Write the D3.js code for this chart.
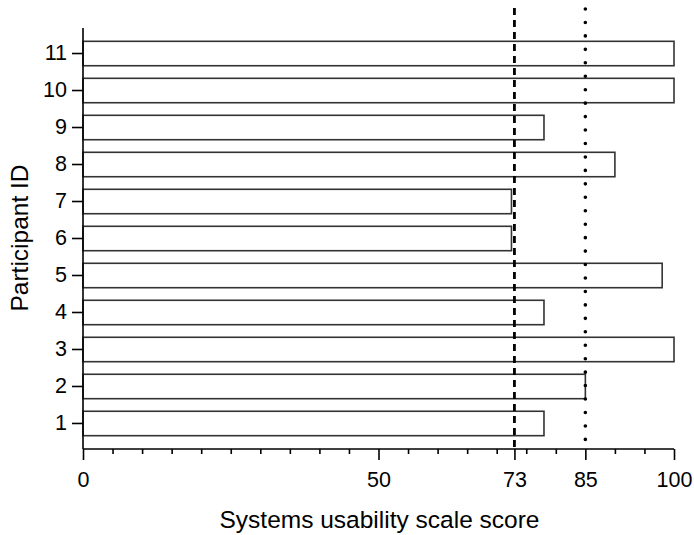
<!DOCTYPE html>
<html>
<head>
<meta charset="utf-8">
<script src="https://cdn.jsdelivr.net/npm/d3@7"></script>
<style>
  html, body { margin: 0; padding: 0; background: #fff; }
  svg { display: block; font-family: Arial, "Liberation Sans", sans-serif; }
</style>
</head>
<body>
<svg id="chart" width="694" height="535"></svg>
<script>
// Participant IDs and their SUS scores
const participants = [1, 2, 3, 4, 5, 6, 7, 8, 9, 10, 11];
const susScores = [78, 85, 100, 78, 98, 72.5, 72.5, 90, 78, 100, 100];

// Reference thresholds drawn as vertical lines
const averageScore = 73;   // dashed
const goodScore = 85;      // dotted

// Axis ticks
const majorTicks = [0, 50, 73, 85, 100];
const minorTicks = [5, 10, 15, 20, 25, 30, 35, 40, 45, 55, 60, 65, 70, 75, 80, 90, 95];

const svg = d3.select("#chart");
const plotLeft = 83, plotRight = 674, plotTop = 28, plotBottom = 449;
const tickFont = "21.5px", titleFont = "24.5px";

const x = d3.scaleLinear().domain([0, 100]).range([plotLeft, plotRight]);
const y = d3.scaleBand()
  .domain(participants)
  .range([plotBottom, plotTop])
  .paddingInner(0.34)
  .paddingOuter(0.36);

// Bars
svg.append("g")
  .selectAll("rect")
  .data(participants)
  .join("rect")
  .attr("x", x(0))
  .attr("y", d => y(d))
  .attr("width", (d, i) => x(susScores[i]) - x(0))
  .attr("height", y.bandwidth())
  .attr("fill", "#fff")
  .attr("stroke", "#333")
  .attr("stroke-width", 1.6);

// Threshold lines
svg.append("line")
  .attr("x1", x(averageScore)).attr("x2", x(averageScore))
  .attr("y1", 8).attr("y2", plotBottom)
  .attr("stroke", "#000")
  .attr("stroke-width", 2.8)
  .attr("stroke-dasharray", "7,5");

svg.append("line")
  .attr("x1", x(goodScore)).attr("x2", x(goodScore))
  .attr("y1", 9).attr("y2", plotBottom)
  .attr("stroke", "#000")
  .attr("stroke-width", 3.6)
  .attr("stroke-linecap", "round")
  .attr("stroke-dasharray", "0,13.45");

// X axis: major labelled ticks plus minor ticks
const xAxisG = svg.append("g").attr("transform", `translate(0,${plotBottom})`);
xAxisG.call(d3.axisBottom(x).tickValues(majorTicks).tickSize(11).tickPadding(12).tickFormat(d3.format("d")));
xAxisG.append("g").call(d3.axisBottom(x).tickValues(minorTicks).tickSize(5).tickFormat(""))
  .select(".domain").remove();
xAxisG.selectAll(".domain").attr("stroke", "#000").attr("stroke-width", 1.6)
  .attr("d", `M${plotLeft},0H${plotRight}`);
xAxisG.selectAll(".tick line").attr("stroke", "#000").attr("stroke-width", 1.6);
xAxisG.selectAll(".tick text")
  .style("font-size", tickFont)
  .style("font-family", "Arial, 'Liberation Sans', sans-serif")
  .attr("fill", "#000");

// Y axis
const yAxisG = svg.append("g").attr("transform", `translate(${plotLeft},0)`);
yAxisG.call(d3.axisLeft(y).tickSize(11).tickPadding(5));
yAxisG.select(".domain").attr("stroke", "#000").attr("stroke-width", 1.6)
  .attr("d", `M0,${plotTop}V${plotBottom}`);
yAxisG.selectAll(".tick line").attr("stroke", "#000").attr("stroke-width", 1.6);
yAxisG.selectAll(".tick text")
  .style("font-size", tickFont)
  .style("font-family", "Arial, 'Liberation Sans', sans-serif")
  .attr("fill", "#000");

// Axis titles
svg.append("text")
  .attr("x", 379.5)
  .attr("y", 528)
  .attr("text-anchor", "middle")
  .style("font-size", titleFont)
  .attr("fill", "#000")
  .text("Systems usability scale score");

svg.append("text")
  .attr("transform", "translate(28,238) rotate(-90)")
  .attr("text-anchor", "middle")
  .style("font-size", titleFont)
  .attr("fill", "#000")
  .text("Participant ID");
</script>
</body>
</html>
